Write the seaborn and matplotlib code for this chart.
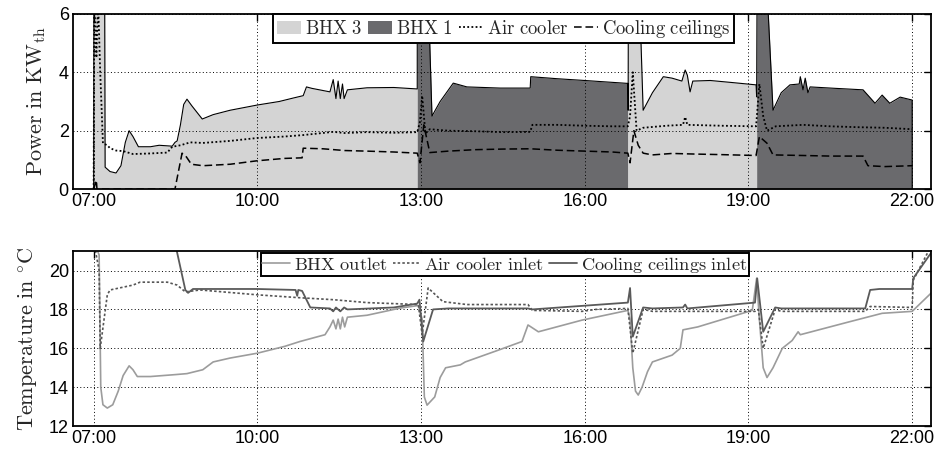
"""Power and temperature of the BHX cooling system over one day."""

import matplotlib
matplotlib.use("Agg")
import matplotlib.pyplot as plt
from matplotlib.lines import Line2D
from matplotlib.patches import Patch
import numpy as np
import pandas as pd
import seaborn as sns

# x ticks (hours of the day)
tick_hours = [7, 10, 13, 16, 19, 22]
tick_labels = ["07:00", "10:00", "13:00", "16:00", "19:00", "22:00"]

# ---- top panel: thermal power in kW ----
power_t = [7.00, 7.005, 7.20, 7.21, 7.30, 7.41, 7.50, 7.58, 7.65, 7.72, 7.82, 8.04, 8.20,
           8.44, 8.49, 8.53, 8.59, 8.65, 8.71, 8.80, 8.99, 9.19, 9.50, 10.00, 10.40, 10.66,
           10.84, 10.90, 11.00, 11.33, 11.39, 11.44, 11.48, 11.52, 11.56, 11.59, 11.65,
           12.01, 12.50, 12.93, 12.931, 13.11, 13.20, 13.35, 13.59, 13.84, 14.45, 15.00,
           15.01, 15.50, 16.00, 16.79, 16.795, 16.80, 16.98, 17.07, 17.24, 17.44, 17.60,
           17.78, 17.84, 17.88, 17.93, 17.98, 18.30, 18.70, 19.14, 19.15, 19.16, 19.31,
           19.45, 19.60, 19.76, 19.93, 19.95, 20.00, 20.04, 20.09, 20.13, 20.60, 21.10,
           21.32, 21.45, 21.59, 21.78, 22.00, 22.001]
power_bhx = [0.0, 8.0, 8.0, 0.75, 0.6, 0.55, 0.8, 1.6, 2.0, 1.8, 1.45, 1.45, 1.5,
             1.47, 1.6, 1.65, 2.2, 2.9, 3.08, 2.85, 2.4, 2.55, 2.7, 2.88, 3.0, 3.12,
             3.2, 3.5, 3.45, 3.33, 3.75, 3.1, 3.7, 3.1, 3.6, 3.1, 3.4,
             3.47, 3.48, 3.43, 8.0, 8.0, 2.5, 3.0, 3.63, 3.5, 3.46, 3.46,
             3.85, 3.78, 3.72, 3.62, 2.7, 8.0, 8.0, 2.7, 3.3, 3.85, 3.8,
             3.7, 4.08, 3.9, 3.33, 3.7, 3.72, 3.65, 3.57, 3.16, 8.0, 8.0,
             2.7, 3.3, 3.57, 3.6, 3.85, 3.4, 3.8, 3.3, 3.5, 3.45, 3.4,
             2.94, 3.22, 2.94, 3.15, 3.05, 0.0]

# which BHX is running: (start, end, name)
bhx_periods = [(7.00, 12.93, "BHX 3"), (12.93, 16.79, "BHX 1"),
               (16.79, 19.15, "BHX 3"), (19.15, 22.001, "BHX 1")]

air_t = [7.00, 7.01, 7.05, 7.08, 7.12, 7.17, 7.25, 7.30, 7.41, 7.54, 7.72, 8.04, 8.35,
         8.44, 8.59, 8.77, 9.00, 9.50, 10.00, 10.50, 10.84, 11.39, 11.60, 12.00, 12.50,
         12.93, 12.98, 13.02, 13.08, 13.16, 13.50, 14.00, 14.50, 15.00, 15.04, 15.50,
         16.00, 16.50, 16.79, 16.83, 16.88, 16.95, 17.07, 17.50, 17.80, 17.84, 17.88,
         18.50, 19.14, 19.20, 19.27, 19.34, 19.50, 20.00, 20.50, 21.00, 21.50, 22.00]
air_kw = [0.0, 6.5, 4.5, 6.5, 4.0, 1.57, 1.5, 1.4, 1.32, 1.3, 1.2, 1.22, 1.25,
          1.45, 1.5, 1.6, 1.58, 1.65, 1.75, 1.8, 1.85, 1.96, 1.92, 1.95, 1.93,
          1.95, 2.3, 3.2, 1.9, 2.05, 2.0, 1.98, 1.95, 1.96, 2.2, 2.2,
          2.17, 2.15, 2.15, 2.5, 4.0, 2.0, 2.1, 2.17, 2.2, 2.47, 2.2,
          2.17, 2.15, 3.6, 2.5, 2.0, 2.15, 2.2, 2.15, 2.12, 2.1, 2.05]

ceil_t = [7.00, 7.05, 7.06, 8.49, 8.62, 8.70, 8.79, 9.00, 9.50, 10.00, 10.50, 10.82,
          10.84, 11.20, 11.60, 12.00, 12.50, 12.93, 12.98, 13.05, 13.16, 13.50, 14.00,
          14.50, 15.00, 15.50, 16.00, 16.50, 16.79, 16.83, 16.90, 16.98, 17.07, 17.24,
          17.60, 18.00, 18.50, 19.14, 19.20, 19.34, 19.45, 20.00, 20.50, 21.10, 21.19,
          21.50, 22.00]
ceil_kw = [0.0, 0.3, 0.0, 0.0, 1.23, 1.1, 0.85, 0.8, 0.85, 0.97, 1.05, 1.07,
           1.4, 1.38, 1.32, 1.3, 1.27, 1.23, 0.9, 2.2, 1.25, 1.3, 1.35,
           1.37, 1.38, 1.33, 1.3, 1.27, 1.23, 0.9, 2.0, 1.5, 1.23, 1.17,
           1.22, 1.2, 1.18, 1.15, 1.8, 1.57, 1.17, 1.15, 1.13, 1.13, 0.8,
           0.77, 0.8]

# ---- bottom panel: temperatures in degC ----
out_t = [7.00, 7.10, 7.13, 7.17, 7.25, 7.35, 7.45, 7.54, 7.65, 7.72, 7.80, 8.04, 8.50,
         8.71, 9.00, 9.19, 9.50, 10.00, 10.50, 10.78, 11.24, 11.33, 11.39, 11.44, 11.48,
         11.52, 11.56, 11.60, 11.65, 12.01, 12.62, 12.95, 13.02, 13.06, 13.11, 13.25,
         13.35, 13.45, 13.72, 13.81, 14.41, 14.85, 14.96, 15.15, 15.95, 16.79, 16.83,
         16.88, 16.93, 16.98, 17.05, 17.15, 17.24, 17.60, 17.75, 17.80, 18.07, 19.07,
         19.15, 19.20, 19.27, 19.34, 19.45, 19.62, 19.80, 19.91, 19.95, 20.83, 21.45,
         22.00, 22.37]
out_temp = [21.5, 20.8, 14.0, 13.1, 12.93, 13.1, 13.8, 14.6, 15.1, 14.9, 14.55, 14.55, 14.65,
            14.7, 14.9, 15.3, 15.5, 15.75, 16.1, 16.35, 16.7, 17.1, 17.45, 17.0, 17.5,
            17.0, 17.6, 17.1, 17.6, 17.7, 18.07, 18.2, 17.5, 13.5, 13.08, 13.5,
            14.5, 15.0, 15.15, 15.3, 15.9, 16.35, 17.2, 16.85, 17.45, 17.95, 17.5,
            15.0, 13.8, 13.6, 14.0, 14.8, 15.3, 15.65, 16.0, 16.95, 17.1, 17.95,
            19.6, 17.5, 15.0, 14.5, 15.0, 16.0, 16.4, 16.85, 16.7, 17.35, 17.8,
            17.9, 18.9]

inlet_t = [7.00, 7.10, 7.12, 7.25, 7.30, 7.72, 7.85, 8.35, 8.53, 8.68, 8.95, 10.00, 10.78,
           11.39, 12.01, 12.95, 13.02, 13.13, 13.40, 13.84, 14.96, 15.04, 15.95, 16.20,
           16.79, 16.88, 17.07, 17.24, 19.12, 19.18, 19.27, 19.49, 19.60, 21.14, 21.23,
           22.00, 22.02, 22.30]
inlet_temp = [21.5, 20.0, 16.0, 18.75, 19.0, 19.25, 19.4, 19.4, 19.25, 18.9, 19.0, 18.75, 18.6,
              18.5, 18.35, 18.25, 16.7, 19.1, 18.4, 18.25, 18.25, 17.95, 17.9, 18.0,
              18.05, 15.75, 18.0, 17.9, 17.9, 18.0, 16.0, 18.0, 17.9, 17.9, 18.15,
              18.1, 19.5, 21.0]

ceil_in_t = [7.00, 8.50, 8.68, 8.73, 8.82, 10.00, 10.70, 10.73, 10.75, 10.82, 10.97, 11.33,
             11.39, 11.44, 11.52, 11.59, 11.65, 12.50, 12.93, 12.97, 13.04, 13.22, 13.50,
             14.96, 15.04, 16.79, 16.83, 16.88, 17.07, 17.24, 17.80, 17.84, 17.88, 19.12,
             19.16, 19.27, 19.49, 19.60, 21.14, 21.23, 21.40, 22.00, 22.02, 22.37]
ceil_in_temp = [23.0, 21.3, 19.0, 18.85, 19.05, 19.05, 19.0, 18.7, 19.0, 18.95, 18.1, 18.05,
                17.9, 18.1, 17.9, 18.1, 18.0, 18.1, 18.3, 18.5, 16.35, 18.0, 18.05,
                18.05, 18.0, 18.35, 19.1, 16.6, 18.1, 18.05, 18.1, 18.25, 18.05, 18.35,
                19.6, 16.85, 18.1, 18.05, 18.05, 19.0, 19.05, 19.05, 19.6, 21.0]

BHX_COLORS = {"BHX 3": "#d4d4d4", "BHX 1": "#6a6a6d"}


def _style_axis(ax):
    ax.set_xlim(6.62, 22.35)
    ax.set_xticks(tick_hours)
    ax.set_xticklabels(tick_labels)
    ax.set_xlabel("")
    ax.tick_params(direction="in", length=5, width=1.0, top=True, right=True,
                   labelsize=13, pad=3, colors="black")
    ax.grid(True, color="black", linestyle=(0, (1, 2.5)), linewidth=0.7)
    ax.set_axisbelow(False)
    for sp in ax.spines.values():
        sp.set_color("black")
        sp.set_linewidth(1.3)
        sp.set_zorder(5)


def main() -> None:
    sns.set_theme(style="white")
    plt.rcParams["font.family"] = ["Liberation Sans", "DejaVu Sans"]
    plt.rcParams["mathtext.fontset"] = "cm"

    fig, (ax1, ax2) = plt.subplots(2, 1, figsize=(9.35, 4.5), dpi=100)
    fig.subplots_adjust(left=0.078, right=0.996, top=0.969, bottom=0.053, hspace=0.354)

    # top: filled BHX power by active unit
    pt = np.asarray(power_t)
    pv = np.asarray(power_bhx)
    for t0, t1, name in bhx_periods:
        m = (pt >= t0) & (pt <= t1)
        ax1.fill_between(pt[m], 0, pv[m], color=BHX_COLORS[name], linewidth=0, zorder=1)

    power_df = pd.DataFrame({"t": power_t, "kw": power_bhx})
    sns.lineplot(data=power_df, x="t", y="kw", estimator=None, color="black",
                 linewidth=0.8, ax=ax1, zorder=3)
    air_df = pd.DataFrame({"t": air_t, "kw": air_kw})
    sns.lineplot(data=air_df, x="t", y="kw", estimator=None, color="black",
                 linewidth=1.3, linestyle=(0, (1, 1.3)), ax=ax1, zorder=3)
    ceil_df = pd.DataFrame({"t": ceil_t, "kw": ceil_kw})
    sns.lineplot(data=ceil_df, x="t", y="kw", estimator=None, color="black",
                 linewidth=1.1, linestyle=(0, (5, 2.5)), ax=ax1, zorder=3)

    ax1.set_ylim(0, 6)
    ax1.set_yticks([0, 2, 4, 6])
    _style_axis(ax1)
    ax1.set_ylabel(r"$\mathrm{Power\ in\ KW_{th}}$", fontsize=16, labelpad=8)

    handles1 = [
        Patch(facecolor=BHX_COLORS["BHX 3"], edgecolor="none"),
        Patch(facecolor=BHX_COLORS["BHX 1"], edgecolor="none"),
        Line2D([], [], color="black", linewidth=1.3, linestyle=(0, (1, 1.3))),
        Line2D([], [], color="black", linewidth=1.1, linestyle=(0, (5, 2.5))),
    ]
    labels1 = [r"$\mathrm{BHX\ 3}$", r"$\mathrm{BHX\ 1}$",
               r"$\mathrm{Air\ cooler}$", r"$\mathrm{Cooling\ ceilings}$"]
    leg1 = ax1.legend(handles1, labels1, loc="upper center", bbox_to_anchor=(0.502, 1.0),
                      ncol=4, fontsize=13.5, frameon=True, fancybox=False, framealpha=1,
                      edgecolor="black", borderpad=0.2, handlelength=1.3,
                      handletextpad=0.2, columnspacing=0.3, borderaxespad=0.0)
    leg1.get_frame().set_linewidth(1.4)
    leg1.set_zorder(10)

    # bottom: temperatures
    out_df = pd.DataFrame({"t": out_t, "temp": out_temp})
    sns.lineplot(data=out_df, x="t", y="temp", estimator=None, color="#9c9c9c",
                 linewidth=1.2, ax=ax2, zorder=3)
    inlet_df = pd.DataFrame({"t": inlet_t, "temp": inlet_temp})
    sns.lineplot(data=inlet_df, x="t", y="temp", estimator=None, color="#555555",
                 linewidth=1.2, linestyle=(0, (1.5, 1.3)), ax=ax2, zorder=3)
    ceil_in_df = pd.DataFrame({"t": ceil_in_t, "temp": ceil_in_temp})
    sns.lineplot(data=ceil_in_df, x="t", y="temp", estimator=None, color="#5a5a5a",
                 linewidth=1.3, ax=ax2, zorder=3)

    ax2.set_ylim(12, 21)
    ax2.set_yticks([12, 14, 16, 18, 20])
    _style_axis(ax2)
    ax2.set_ylabel(r"$\mathrm{Temperature\ in\ ^{\circ}C}$", fontsize=16, labelpad=6)

    handles2 = [
        Line2D([], [], color="#9c9c9c", linewidth=1.2),
        Line2D([], [], color="#555555", linewidth=1.2, linestyle=(0, (1.5, 1.3))),
        Line2D([], [], color="#5a5a5a", linewidth=1.3),
    ]
    labels2 = [r"$\mathrm{BHX\ outlet}$", r"$\mathrm{Air\ cooler\ inlet}$",
               r"$\mathrm{Cooling\ ceilings\ inlet}$"]
    leg2 = ax2.legend(handles2, labels2, loc="upper center", bbox_to_anchor=(0.503, 0.99),
                      ncol=3, fontsize=13.2, frameon=True, fancybox=False, framealpha=1,
                      edgecolor="black", borderpad=0.1, handlelength=1.5,
                      handletextpad=0.2, columnspacing=0.3, borderaxespad=0.0)
    leg2.get_frame().set_linewidth(1.4)
    leg2.set_zorder(10)

    fig.savefig("out.png", dpi=100)
    plt.close(fig)


if __name__ == "__main__":
    main()
